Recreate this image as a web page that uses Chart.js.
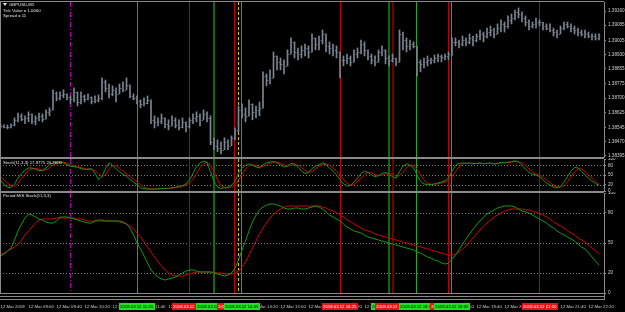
<!DOCTYPE html>
<html>
<head>
<meta charset="utf-8">
<script src="https://cdn.jsdelivr.net/npm/chart.js@4.4.1/dist/chart.umd.min.js"></script>
<style>
  html, body { margin: 0; padding: 0; background: #000; }
  #wrap { position: relative; width: 625px; height: 312px; background: #000; overflow: hidden; }
  canvas { position: absolute; left: 0; }
</style>
</head>
<body>
<div id="wrap">
  <canvas id="priceChart" width="625" height="158" style="top:0px"></canvas>
  <canvas id="stochChart" width="625" height="34" style="top:158px"></canvas>
  <canvas id="mtsChart" width="625" height="120" style="top:192px"></canvas>
</div>
<script>
// GBPUSD M5, 12 Mar 2018, bars from 08:20
const firstOpen = 1.38559;
const barHigh = [
  1.38565,1.38559,1.38559,1.38565,1.38596,1.38622,1.38617,1.38607,1.38628,1.38617,
  1.38607,1.38622,1.38617,1.38638,1.38649,1.38744,1.38733,1.38733,1.38744,1.38723,
  1.38712,1.38754,1.38733,1.38733,1.38717,1.38723,1.38707,1.38712,1.38717,1.38807,
  1.38796,1.38775,1.38765,1.38754,1.38775,1.38786,1.38807,1.38770,1.38723,1.38712,
  1.38691,1.38702,1.38712,1.38691,1.38607,1.38596,1.38617,1.38596,1.38586,1.38607,
  1.38596,1.38586,1.38596,1.38575,1.38596,1.38617,1.38628,1.38617,1.38638,1.38628,
  1.38607,1.38491,1.38480,1.38470,1.38491,1.38480,1.38501,1.38543,1.38659,1.38670,
  1.38649,1.38691,1.38670,1.38659,1.38680,1.38839,1.38828,1.38849,1.38944,1.38923,
  1.38912,1.38902,1.38955,1.39018,1.38997,1.38965,1.38976,1.38986,1.38976,1.39039,
  1.39018,1.39028,1.39060,1.39039,1.38997,1.38986,1.38976,1.38944,1.38923,1.38933,
  1.38923,1.38955,1.38965,1.39007,1.38997,1.38955,1.38933,1.38923,1.38955,1.38976,
  1.38955,1.38923,1.38933,1.38912,1.39060,1.39049,1.39018,1.39007,1.38997,1.38976,
  1.38902,1.38912,1.38923,1.38912,1.38928,1.38933,1.38928,1.38933,1.38944,1.39018,
  1.39018,1.39007,1.39028,1.39018,1.39039,1.39028,1.39039,1.39060,1.39049,1.39070,
  1.39081,1.39070,1.39092,1.39113,1.39102,1.39134,1.39144,1.39165,1.39176,1.39155,
  1.39134,1.39113,1.39102,1.39123,1.39113,1.39102,1.39092,1.39092,1.39070,1.39060,
  1.39081,1.39102,1.39102,1.39092,1.39081,1.39070,1.39060,1.39060,1.39049,1.39039,
  1.39039,1.39039
];
const barLow = [
  1.38543,1.38543,1.38538,1.38543,1.38554,1.38575,1.38580,1.38565,1.38575,1.38565,
  1.38559,1.38580,1.38575,1.38591,1.38607,1.38638,1.38686,1.38691,1.38702,1.38691,
  1.38670,1.38680,1.38659,1.38670,1.38680,1.38691,1.38670,1.38675,1.38680,1.38691,
  1.38733,1.38702,1.38712,1.38680,1.38723,1.38733,1.38744,1.38702,1.38691,1.38670,
  1.38649,1.38659,1.38670,1.38565,1.38543,1.38554,1.38565,1.38543,1.38533,1.38554,
  1.38543,1.38533,1.38543,1.38522,1.38543,1.38565,1.38575,1.38554,1.38586,1.38575,
  1.38454,1.38428,1.38417,1.38406,1.38428,1.38428,1.38449,1.38480,1.38522,1.38596,
  1.38575,1.38607,1.38586,1.38596,1.38607,1.38649,1.38765,1.38775,1.38807,1.38849,
  1.38849,1.38828,1.38870,1.38933,1.38912,1.38902,1.38912,1.38923,1.38912,1.38944,
  1.38955,1.38955,1.38986,1.38944,1.38933,1.38923,1.38912,1.38807,1.38870,1.38881,
  1.38870,1.38891,1.38912,1.38933,1.38923,1.38902,1.38881,1.38870,1.38891,1.38923,
  1.38881,1.38870,1.38891,1.38870,1.38891,1.38955,1.38944,1.38955,1.38965,1.38818,
  1.38839,1.38860,1.38870,1.38881,1.38886,1.38891,1.38891,1.38902,1.38902,1.38923,
  1.38976,1.38965,1.38976,1.38976,1.38986,1.38976,1.38997,1.39007,1.38997,1.39018,
  1.39028,1.39018,1.39039,1.39049,1.39049,1.39070,1.39092,1.39113,1.39123,1.39102,
  1.39081,1.39060,1.39070,1.39070,1.39081,1.39060,1.39060,1.39049,1.39028,1.39018,
  1.39039,1.39060,1.39070,1.39049,1.39039,1.39028,1.39028,1.39018,1.39018,1.39007,
  1.39007,1.39007
];
const barClose = [
  1.38554,1.38549,1.38549,1.38559,1.38586,1.38607,1.38591,1.38596,1.38617,1.38580,
  1.38596,1.38607,1.38591,1.38628,1.38638,1.38728,1.38702,1.38717,1.38723,1.38707,
  1.38696,1.38733,1.38680,1.38712,1.38696,1.38707,1.38686,1.38691,1.38702,1.38786,
  1.38754,1.38723,1.38744,1.38723,1.38754,1.38744,1.38770,1.38712,1.38702,1.38686,
  1.38670,1.38675,1.38691,1.38586,1.38575,1.38580,1.38596,1.38565,1.38554,1.38586,
  1.38559,1.38549,1.38575,1.38554,1.38586,1.38596,1.38607,1.38586,1.38617,1.38596,
  1.38470,1.38449,1.38438,1.38428,1.38470,1.38449,1.38491,1.38533,1.38638,1.38617,
  1.38607,1.38670,1.38628,1.38638,1.38649,1.38818,1.38796,1.38807,1.38923,1.38891,
  1.38881,1.38870,1.38933,1.38997,1.38944,1.38933,1.38955,1.38965,1.38944,1.39018,
  1.38986,1.39007,1.39039,1.38976,1.38965,1.38955,1.38944,1.38902,1.38902,1.38912,
  1.38891,1.38933,1.38944,1.38986,1.38955,1.38923,1.38902,1.38891,1.38944,1.38955,
  1.38912,1.38902,1.38912,1.38891,1.39039,1.39007,1.38976,1.38986,1.38976,1.38891,
  1.38881,1.38891,1.38902,1.38902,1.38912,1.38923,1.38918,1.38923,1.38933,1.38997,
  1.38997,1.38986,1.39007,1.38997,1.39018,1.39007,1.39028,1.39039,1.39028,1.39049,
  1.39060,1.39039,1.39070,1.39092,1.39081,1.39113,1.39123,1.39155,1.39144,1.39123,
  1.39102,1.39081,1.39092,1.39102,1.39102,1.39081,1.39070,1.39060,1.39049,1.39039,
  1.39070,1.39092,1.39081,1.39070,1.39060,1.39049,1.39039,1.39039,1.39028,1.39028,
  1.39018,1.39028
];

// Stoch(11,3,3)
const stochMain = [
  34,20,12,11,22,40,55,65,72,72, 68,63,64,72,82,88,90,91,88,82,
  77,76,74,70,67,68,70,55,36,45, 70,88,80,70,60,52,46,36,28,20,
  10,7,6,6,6,7,8,8,8,10, 12,14,17,22,35,55,75,88,93,90,
  60,30,12,8,10,12,18,30,55,72, 80,85,80,75,72,82,88,90,92,88,
  82,75,78,86,84,74,62,55,58,70, 78,82,88,82,72,62,50,35,22,15,
  18,28,40,55,62,58,50,45,48,55, 58,52,45,40,60,78,85,80,72,50,
  30,22,20,20,22,25,28,32,40,62, 80,86,88,86,88,85,86,88,85,86,
  88,84,86,90,88,90,92,94,90,80, 68,58,52,50,45,35,25,18,12,10,
  14,28,45,62,74,72,62,50,40,31, 23,18
];
const stochSignal = [
  45,35,24,17,15,24,39,53,64,70, 71,68,65,66,73,81,87,90,90,87,
  82,78,76,73,70,68,68,64,54,45, 50,68,79,79,70,61,53,45,37,28,
  19,12,8,6,6,6,7,8,8,9, 10,12,14,18,25,37,55,73,85,90,
  80,60,34,17,10,10,13,20,34,52, 69,79,82,80,76,76,81,87,90,90,
  87,82,78,80,83,81,73,64,58,61, 69,77,83,84,81,72,61,49,36,24,
  18,20,29,41,52,58,57,51,48,49, 54,55,52,46,48,59,74,81,79,67,
  51,34,24,21,21,22,25,28,33,45, 61,76,85,87,87,86,86,86,86,86,
  86,86,86,87,88,89,90,92,92,88, 79,69,59,53,49,43,35,26,18,13,
  12,17,29,45,60,69,69,61,50,40, 29,20
];

// Period MtS Stoch(11,3,3)
const mtsMain = [
  37,39,42,45,53,62,69,75,79,78, 76,74,73,71,70,70,72,76,76,76,
  75,74,73,72,71,70,70,72,73,73, 72,72,72,72,72,71,69,65,58,50,
  44,37,30,23,19,16,14,13,14,15, 16,18,20,22,23,23,22,21,21,21,
  21,20,19,18,17,18,20,25,33,43, 52,62,71,78,83,86,88,89,89,88,
  87,85,84,84,85,85,84,84,85,86, 87,86,84,81,78,76,74,72,69,66,
  64,62,61,60,58,56,55,54,53,52, 51,50,49,48,47,46,45,44,43,41,
  40,38,36,35,33,32,30,29,30,34, 38,43,49,54,59,64,68,72,76,79,
  81,83,85,86,87,87,87,86,84,82, 81,80,78,76,74,72,70,67,65,62,
  60,58,56,54,52,49,46,44,40,36, 32,28
];
const mtsSignal = [
  39,40,42,44,46,49,53,58,62,66, 70,73,74,74,74,74,75,75,75,75,
  75,75,74,74,73,72,72,72,72,72, 72,72,72,72,71,70,69,67,64,60,
  56,51,46,41,36,31,27,23,20,18, 17,17,17,18,19,20,21,21,21,21,
  21,21,20,20,19,19,19,20,22,26, 31,38,45,52,59,65,70,75,79,82,
  84,86,87,87,87,87,87,87,87,87, 87,87,86,85,83,82,80,78,76,73,
  71,69,67,65,63,62,61,59,58,57, 56,55,54,53,52,51,50,49,48,47,
  46,45,44,43,42,41,40,39,38,38, 39,41,44,47,51,55,59,63,67,70,
  73,76,78,80,82,83,84,84,84,84, 83,83,82,81,79,78,76,74,71,69,
  67,65,62,60,58,55,53,51,48,45, 42,39
];

const priceTicks = [1.39160, 1.39085, 1.39005, 1.38930, 1.38855, 1.38775, 1.38700, 1.38625, 1.38545, 1.38470, 1.38395];
const oscTicks = [0, 20, 50, 80, 100];
const oscLevels = [20, 50, 80];
const timeLabels = ['12 Mar 2018', '12 Mar 09:00', '12 Mar 09:40', '12 Mar 10:20', '12 Mar 11:00', '12 Mar 11:40',
  '12 Mar 12:20', '12 Mar 13:00', '12 Mar 13:40', '12 Mar 14:20', '12 Mar 15:00', '12 Mar 15:40', '12 Mar 16:20',
  '12 Mar 17:00', '12 Mar 17:40', '12 Mar 18:20', '12 Mar 19:00', '12 Mar 19:40', '12 Mar 20:20', '12 Mar 21:00',
  '12 Mar 21:40', '12 Mar 22:20'];

// vertical objects (bar index) and their kind
const markerBars  = [20, 39, 54, 61, 67, 68, 69, 97, 111, 112, 119, 128, 129, 154];
const markerKinds = ['period', 'buy', 'sell', 'buyBold', 'sell', 'entry', 'buy', 'sell', 'buyBold', 'sellBold', 'buy', 'sell', 'buy', 'sell'];

const markerStyle = {
  period:   { color: '#b000b0', width: 1, dash: [5, 2, 1, 2] },
  entry:    { color: '#d6c300', width: 1, dash: [3, 2] },
  buy:      { color: '#1fae1f', width: 1, dash: [], box: '#22e022', text: '#000' },
  buyBold:  { color: '#0d6a0d', width: 2, dash: [], box: '#22e022', text: '#000' },
  sell:     { color: '#c00000', width: 1, dash: [], box: '#e81414', text: '#fff' },
  sellBold: { color: '#6e0000', width: 2, dash: [], box: '#e81414', text: '#fff' }
};

const BAR_COLOR = '#7a8592';
const TICK_COLOR = '#5f6873';
const FRAME = '#8a8a8a';
const TEXT = '#d0d0d0';
const SMALL_FONT = "4.3px 'Liberation Sans', Arial, sans-serif";
const X_MIN = -0.5 / 3.5;
const X_MAX = 604 / 3.5 - 0.5 / 3.5;

Chart.defaults.font.family = "'Liberation Sans', Arial, sans-serif";
Chart.defaults.font.size = 5;
Chart.defaults.color = TEXT;

function hiddenX() {
  return { type: 'linear', min: X_MIN, max: X_MAX, offset: false, display: false };
}

function rightAxis(min, max, values, fmt) {
  return {
    position: 'right', min: min, max: max,
    afterFit(s) { s.width = 21; s.paddingTop = 0; s.paddingBottom = 0; },
    afterBuildTicks(s) { s.ticks = values.map(v => ({ value: v })); },
    ticks: { color: TEXT, padding: 2, autoSkip: false, callback: fmt, font: { size: 4.6 } },
    grid: { drawOnChartArea: false, drawTicks: true, tickLength: 2, color: FRAME },
    border: { display: true, color: FRAME }
  };
}

const markerLines = {
  id: 'markerLines',
  beforeDatasetsDraw(chart) {
    const { ctx, chartArea: a, scales: { x } } = chart;
    ctx.save();
    markerBars.forEach((b, k) => {
      const st = markerStyle[markerKinds[k]];
      const raw = x.getPixelForValue(b);
      const px = st.width % 2 ? Math.floor(raw) + 0.5 : Math.round(raw);
      ctx.strokeStyle = st.color;
      ctx.lineWidth = st.width;
      ctx.setLineDash(st.dash);
      ctx.beginPath();
      ctx.moveTo(px, a.top);
      ctx.lineTo(px, a.bottom);
      ctx.stroke();
    });
    ctx.restore();
  }
};

const frame = {
  id: 'frame',
  afterDraw(chart) {
    const { ctx, chartArea: a } = chart;
    ctx.save();
    ctx.strokeStyle = FRAME;
    ctx.lineWidth = 1;
    ctx.beginPath();
    ctx.moveTo(0, a.top - 0.5); ctx.lineTo(a.right, a.top - 0.5);
    ctx.moveTo(0, a.bottom + 0.5); ctx.lineTo(a.right, a.bottom + 0.5);
    ctx.moveTo(0.5, a.top); ctx.lineTo(0.5, a.bottom);
    ctx.stroke();
    ctx.restore();
  }
};

function panelTitle(lines) {
  return {
    id: 'panelTitle',
    afterDraw(chart) {
      const ctx = chart.ctx;
      ctx.save();
      ctx.font = SMALL_FONT;
      ctx.fillStyle = '#e0e0e0';
      ctx.textBaseline = 'middle';
      lines.forEach(l => ctx.fillText(l.text, l.x, l.y));
      ctx.restore();
    }
  };
}

const oscLevelLines = {
  id: 'oscLevelLines',
  beforeDatasetsDraw(chart) {
    const { ctx, chartArea: a, scales: { y } } = chart;
    ctx.save();
    ctx.strokeStyle = '#7c7c7c';
    ctx.lineWidth = 1;
    ctx.setLineDash([1, 2]);
    oscLevels.forEach(v => {
      const py = Math.round(y.getPixelForValue(v)) + 0.5;
      ctx.beginPath(); ctx.moveTo(a.left, py); ctx.lineTo(a.right, py); ctx.stroke();
    });
    ctx.restore();
  }
};

// open / close ticks of the OHLC bars
const ohlcTicks = {
  id: 'ohlcTicks',
  afterDatasetsDraw(chart) {
    const { ctx, scales: { x, y } } = chart;
    ctx.save();
    ctx.fillStyle = TICK_COLOR;
    barClose.forEach((c, i) => {
      const px = x.getPixelForValue(i);
      const o = i ? barClose[i - 1] : firstOpen;
      ctx.fillRect(px - 1.5, Math.round(y.getPixelForValue(o)), 1, 1);
      ctx.fillRect(px + 0.5, Math.round(y.getPixelForValue(c)), 1, 1);
    });
    ctx.restore();
  }
};

const symbolInfo = {
  id: 'symbolInfo',
  afterDraw(chart) {
    const ctx = chart.ctx;
    ctx.save();
    ctx.fillStyle = '#e6e6e6';
    ctx.beginPath();
    ctx.moveTo(3, 3); ctx.lineTo(7, 3); ctx.lineTo(5, 6); ctx.closePath();
    ctx.fill();
    ctx.font = SMALL_FONT;
    ctx.textBaseline = 'middle';
    ctx.fillText('GBPUSD,M5', 9, 4.5);
    ctx.fillText('Tick Value = 1.0000', 3, 10.5);
    ctx.fillText('Spread = 11', 3, 16);
    ctx.restore();
  }
};

// time labels of the vertical lines on the time scale
const timeBoxes = {
  id: 'timeBoxes',
  afterDraw(chart) {
    const { ctx, chartArea: a, scales: { x } } = chart;
    ctx.save();
    ctx.strokeStyle = FRAME;
    ctx.lineWidth = 1;
    ctx.beginPath();
    ctx.moveTo(0, a.bottom + 3.5); ctx.lineTo(a.right, a.bottom + 3.5);
    ctx.moveTo(0, a.bottom + 6.5); ctx.lineTo(a.right, a.bottom + 6.5);
    ctx.moveTo(a.right + 0.5, a.bottom); ctx.lineTo(a.right + 0.5, a.bottom + 7);
    ctx.stroke();
    ctx.font = SMALL_FONT;
    ctx.textBaseline = 'middle';
    markerBars.forEach((b, k) => {
      const st = markerStyle[markerKinds[k]];
      if (!st.box) return;
      const mins = 8 * 60 + 20 + 5 * b;
      const hh = String(Math.floor(mins / 60)).padStart(2, '0');
      const mm = String(mins % 60).padStart(2, '0');
      const label = '2018.03.12 ' + hh + ':' + mm;
      const w = Math.ceil(ctx.measureText(label).width) + 2;
      const px = Math.round(x.getPixelForValue(b) - w / 2);
      ctx.fillStyle = st.box;
      ctx.fillRect(px, a.bottom + 10, w, 7);
      ctx.fillStyle = st.text;
      ctx.fillText(label, px + 1, a.bottom + 13.5);
    });
    ctx.restore();
  }
};

function lineSet(values, color) {
  return {
    type: 'line',
    data: values.map((v, i) => ({ x: i, y: v })),
    borderColor: color,
    borderWidth: 1,
    pointRadius: 0,
    tension: 0,
    fill: false
  };
}

const common = { responsive: false, animation: false, devicePixelRatio: 1, events: [],
  plugins: { legend: { display: false }, tooltip: { enabled: false } } };

new Chart(document.getElementById('priceChart'), {
  type: 'bar',
  data: {
    datasets: [{
      data: barLow.map((lo, i) => ({ x: i, y: [lo, barHigh[i]] })),
      backgroundColor: BAR_COLOR,
      barThickness: 1,
      borderWidth: 0
    }]
  },
  options: Object.assign({}, common, {
    layout: { padding: { top: 2, bottom: 1, left: 0, right: 0 } },
    scales: {
      x: hiddenX(),
      y: rightAxis(1.383897, 1.392075, priceTicks, v => v.toFixed(5))
    }
  }),
  plugins: [markerLines, ohlcTicks, frame, symbolInfo]
});

new Chart(document.getElementById('stochChart'), {
  type: 'line',
  data: { datasets: [lineSet(stochMain, '#129a12'), lineSet(stochSignal, '#d00000')] },
  options: Object.assign({}, common, {
    layout: { padding: { top: 1, bottom: 1, left: 0, right: 0 } },
    scales: { x: hiddenX(), y: rightAxis(0, 100, oscTicks, v => String(v)) }
  }),
  plugins: [oscLevelLines, markerLines, frame,
    panelTitle([{ text: 'Stoch(11,3,3) 17.9775 20.2600', x: 3, y: 5 }])]
});

new Chart(document.getElementById('mtsChart'), {
  type: 'line',
  data: { datasets: [lineSet(mtsMain, '#129a12'), lineSet(mtsSignal, '#d00000')] },
  options: Object.assign({}, common, {
    layout: { padding: { top: 1, bottom: 0, left: 0, right: 0 } },
    scales: {
      x: {
        type: 'linear', min: X_MIN, max: X_MAX, offset: false, position: 'bottom',
        afterFit(s) { s.height = 19; s.paddingLeft = 0; s.paddingRight = 0; },
        afterBuildTicks(s) { s.ticks = timeLabels.map((_, k) => ({ value: k * 8 })); },
        ticks: { align: 'start', padding: 11, autoSkip: false, maxRotation: 0, minRotation: 0,
          color: TEXT, font: { size: 4.3 }, callback: (v, idx) => timeLabels[idx] },
        grid: { drawOnChartArea: false, drawTicks: false },
        border: { display: false }
      },
      y: rightAxis(0, 100, oscTicks, v => String(v))
    }
  }),
  plugins: [oscLevelLines, markerLines, frame, timeBoxes,
    panelTitle([{ text: 'Period MtS Stoch(11,3,3)', x: 3, y: 4 }])]
});
</script>
</body>
</html>
